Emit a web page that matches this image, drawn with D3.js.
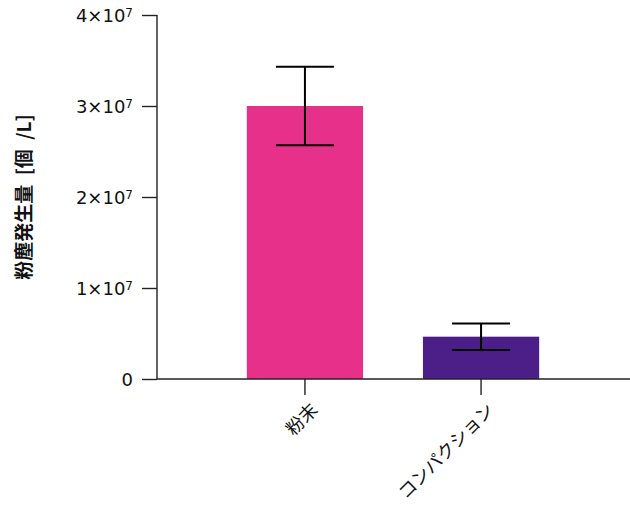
<!DOCTYPE html>
<html>
<head>
<meta charset="utf-8">
<script src="https://cdn.jsdelivr.net/npm/d3@7"></script>
<style>
html,body{margin:0;padding:0;background:#fff;}
svg{display:block;}
</style>
</head>
<body>
<svg id="chart" width="630" height="506"></svg>
<script>
const categories = ["粉末", "コンパクション"];
const means = [3.0e7, 0.465e7];
const errors = [0.43e7, 0.145e7];
const barColors = ["#E6308A", "#4B1E88"];
const yTicks = [0, 1e7, 2e7, 3e7, 4e7];
const yTickMantissa = ["0", "1", "2", "3", "4"];
const yLabel = "粉塵発生量 [個 /L]";

(function () {
const svg = d3.select("#chart");
const mLeft = 157, mRight = 629, mTop = 15, mBottom = 379;

const x = d3.scaleBand().domain(categories).range([mLeft, mRight])
  .paddingInner(0.34).paddingOuter(0.51);
const y = d3.scaleLinear().domain([0, 4e7]).range([mBottom, mTop]);

// bars
svg.selectAll("rect.bar").data(categories).enter().append("rect")
  .attr("class", "bar")
  .attr("x", d => x(d))
  .attr("width", x.bandwidth())
  .attr("y", (d, i) => y(means[i]))
  .attr("height", (d, i) => y(0) - y(means[i]))
  .attr("fill", (d, i) => barColors[i]);

// error bars
const capW = 58;
const eg = svg.selectAll("g.err").data(categories).enter().append("g")
  .attr("class", "err")
  .attr("stroke", "#000").attr("stroke-width", 2).attr("fill", "none");
eg.append("line")
  .attr("x1", d => x(d) + x.bandwidth() / 2).attr("x2", d => x(d) + x.bandwidth() / 2)
  .attr("y1", (d, i) => y(means[i] + errors[i])).attr("y2", (d, i) => y(means[i] - errors[i]));
eg.append("line")
  .attr("x1", d => x(d) + x.bandwidth() / 2 - capW / 2).attr("x2", d => x(d) + x.bandwidth() / 2 + capW / 2)
  .attr("y1", (d, i) => y(means[i] + errors[i])).attr("y2", (d, i) => y(means[i] + errors[i]));
eg.append("line")
  .attr("x1", d => x(d) + x.bandwidth() / 2 - capW / 2).attr("x2", d => x(d) + x.bandwidth() / 2 + capW / 2)
  .attr("y1", (d, i) => y(means[i] - errors[i])).attr("y2", (d, i) => y(means[i] - errors[i]));

// y axis
const yAxis = d3.axisLeft(y).tickValues(yTicks).tickSize(15).tickPadding(9).tickFormat("");
const yg = svg.append("g").attr("transform", `translate(${mLeft},0)`).call(yAxis);
yg.select(".domain").attr("stroke", "#222").attr("stroke-width", 1.4)
  .attr("d", `M0,${mTop}V${mBottom}`);
yg.selectAll(".tick line").attr("stroke", "#222").attr("stroke-width", 1.4);
yg.selectAll(".tick").each(function(d, i) {
  const t = d3.select(this).append("text")
    .attr("x", -24).attr("dy", "0.36em")
    .attr("text-anchor", "end")
    .attr("fill", "#111")
    .style("font-family", "'DejaVu Sans', Verdana, sans-serif")
    .style("font-size", "18px");
  if (d === 0) {
    t.text(yTickMantissa[i]);
  } else {
    t.append("tspan").text(yTickMantissa[i] + "×10");
    t.append("tspan").attr("dy", "-0.4em").style("font-size", "12px").text("7");
  }
});

// x axis
const xAxis = d3.axisBottom(x).tickSize(16).tickSizeOuter(0).tickFormat("");
const xg = svg.append("g").attr("transform", `translate(0,${mBottom})`).call(xAxis);
xg.select(".domain").attr("stroke", "#222").attr("stroke-width", 1.4)
  .attr("d", `M${mLeft},0H630`);
xg.selectAll(".tick line").attr("stroke", "#222").attr("stroke-width", 1.4);
xg.selectAll(".tick").append("text")
  .attr("text-anchor", "end")
  .attr("transform", "translate(14,32) rotate(-45)")
  .attr("fill", "#111")
  .style("font-family", "'Noto Sans CJK JP', sans-serif")
  .style("font-size", "18px")
  .text(d => d);

// y label
svg.append("text")
  .attr("transform", `translate(24,${(mTop + mBottom) / 2}) rotate(-90)`)
  .attr("text-anchor", "middle")
  .attr("dy", "0.38em")
  .attr("fill", "#111")
  .style("font-family", "'Noto Sans CJK JP', sans-serif")
  .style("font-weight", "bold")
  .style("font-size", "19px")
  .style("word-spacing", "5px")
  .text(yLabel);
})();
</script>
</body>
</html>
